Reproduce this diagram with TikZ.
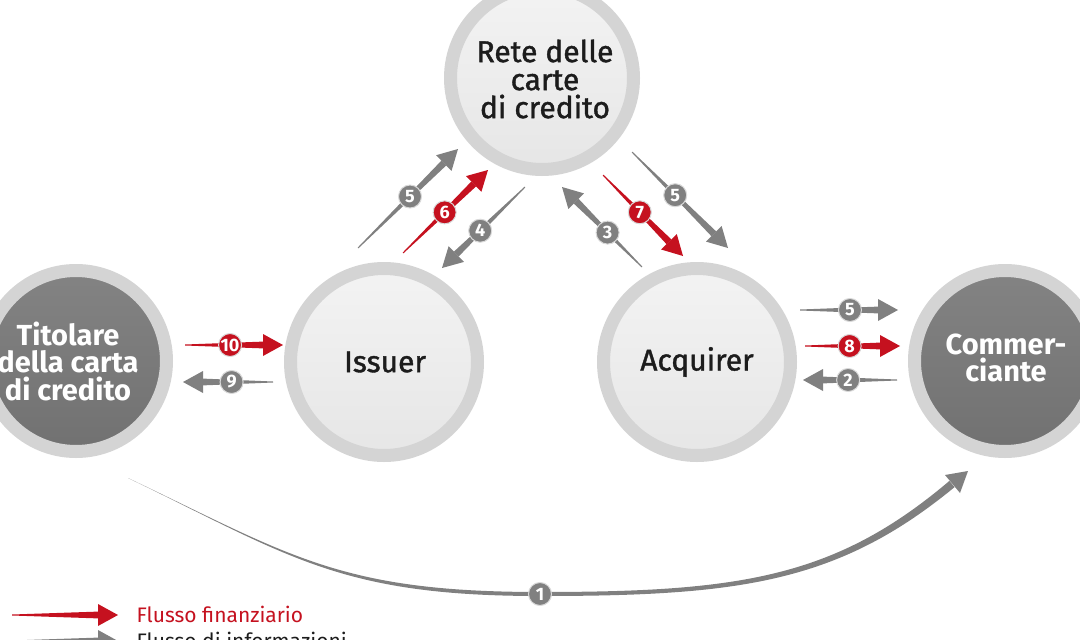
\documentclass[tikz,border=0pt]{standalone}
\usepackage{fontspec}
\setmainfont{Fira Sans}
\newfontfamily\medfont{Fira Sans}[FakeBold=1.3]
\usetikzlibrary{calc}
\definecolor{ring}{HTML}{D4D4D4}
\definecolor{innertop}{HTML}{F3F3F3}
\definecolor{innerbot}{HTML}{E6E6E6}
\definecolor{darktop}{HTML}{838383}
\definecolor{darkbot}{HTML}{717171}
\definecolor{flowred}{HTML}{C5111F}
\definecolor{flowgray}{HTML}{808080}
\definecolor{txt}{HTML}{1C1C1C}
\newcommand\flowarrow[6]{% #1 colour, #2 start, #3 end, #4 label, #5 badge position, #6 name
  \coordinate (#6-hb) at ($(#3)!20pt!(#2)$);
  \fill[#1] ($(#2)!0.5pt!90:(#3)$) -- ($(#6-hb)!3.4pt!90:(#3)$) -- ($(#6-hb)!3.4pt!-90:(#3)$) -- ($(#2)!0.5pt!-90:(#3)$) -- cycle;
  \fill[#1] ($(#6-hb)!11pt!90:(#3)$) -- (#3) -- ($(#6-hb)!11pt!-90:(#3)$) -- cycle;
  \if\relax\detokenize{#4}\relax\else
  \node[badge, fill=#1] (#6) at ($(#2)!#5!(#3)$) {#4};
  \fi}
\begin{document}
\begin{tikzpicture}[x=1pt,y=-1pt,
  lightnode/.style={circle, draw=ring, line width=13pt, inner sep=0pt, top color=innertop, bottom color=innerbot},
  darknode/.style={circle, draw=ring, line width=13pt, inner sep=0pt, top color=darktop, bottom color=darkbot},
  lighttext/.style={align=center, text=txt, font=\medfont\fontsize{30}{28}\selectfont},
  darktext/.style={align=center, text=white, font=\bfseries\fontsize{29}{27.5}\selectfont},
  badge/.style={circle, inner sep=0pt, minimum size=23pt, text=white, draw=white!85!black, line width=1pt, font=\bfseries\fontsize{18}{18}\selectfont},
  legendtext/.style={anchor=base west, font=\fontsize{21}{21}\selectfont}]
\useasboundingbox (0,0) rectangle (1080,640);
\clip (0,0) rectangle (1080,640);
\fill[white] (0,0) rectangle (1080,640);

% circles
\node[lightnode, minimum size=183pt] (rete) at (542,78) {};
\node[lightnode, minimum size=187pt] (issuer) at (384,362) {};
\node[lightnode, minimum size=187pt] (acquirer) at (697,362) {};
\node[darknode, minimum size=181pt] (titolare) at (76,361) {};
\node[darknode, minimum size=181pt] (commerciante) at (1005,361) {};

% texts
\node[lighttext] (rete-t) at (545,79) {Rete delle\\carte\\di credito};
\node[lighttext] (issuer-t) at (385,362) {Issuer};
\node[lighttext] (acquirer-t) at (697,362) {Acquirer};
\node[darktext] (titolare-t) at (68,361) {Titolare\\della carta\\di credito};
\node[darktext] (commerciante-t) at (1006,358) {Commer-\\ciante};

% Titolare <-> Issuer
\coordinate (a10s) at (185,345); \coordinate (a10e) at (283,345);
\flowarrow{flowred}{a10s}{a10e}{10}{0.46}{b10}
\coordinate (a9s) at (273,382); \coordinate (a9e) at (183,382);
\flowarrow{flowgray}{a9s}{a9e}{9}{0.46}{b9}

% Acquirer <-> Commerciante
\coordinate (a5rs) at (800,310); \coordinate (a5re) at (898,310);
\flowarrow{flowgray}{a5rs}{a5re}{5}{0.51}{b5r}
\coordinate (a8s) at (805,346); \coordinate (a8e) at (900,346);
\flowarrow{flowred}{a8s}{a8e}{8}{0.47}{b8}
\coordinate (a2s) at (897,380); \coordinate (a2e) at (803,380);
\flowarrow{flowgray}{a2s}{a2e}{2}{0.52}{b2}

% Issuer <-> Rete
\coordinate (a5ls) at (358,248); \coordinate (a5le) at (458,149);
\flowarrow{flowgray}{a5ls}{a5le}{5}{0.52}{b5l}
\coordinate (a6s) at (403,253); \coordinate (a6e) at (488,170);
\flowarrow{flowred}{a6s}{a6e}{6}{0.49}{b6}
\coordinate (a4s) at (525,187); \coordinate (a4e) at (442,268);
\flowarrow{flowgray}{a4s}{a4e}{4}{0.54}{b4}

% Rete <-> Acquirer
\coordinate (a3s) at (642,267); \coordinate (a3e) at (562,187);
\flowarrow{flowgray}{a3s}{a3e}{3}{0.43}{b3}
\coordinate (a7s) at (603,175); \coordinate (a7e) at (683,256);
\flowarrow{flowred}{a7s}{a7e}{7}{0.46}{b7}
\coordinate (a5ds) at (632,152); \coordinate (a5de) at (728,248);
\flowarrow{flowgray}{a5ds}{a5de}{5}{0.45}{b5d}

% curved arrow 1: Titolare -> Commerciante
\coordinate (c1s) at (128,478);
\coordinate (c1m) at (540,594);
\coordinate (c1tip) at (968,471);
\fill[flowgray] (c1s) .. controls (291,555.5) and (340,592) .. (540,592)
  .. controls (740,592) and (835.5,577.5) .. (949.4,480.9)
  -- (954.6,487.1) .. controls (838.5,582.5) and (740,596) .. (540,596)
  .. controls (340,596) and (290.5,556.5) .. (c1s) -- cycle;
\fill[flowgray] (945,475) -- (c1tip) -- (960,493) -- cycle;
\node[badge, fill=flowgray] (b1) at (c1m) {1};

% legend
\coordinate (l1s) at (12,615); \coordinate (l1e) at (118,615);
\flowarrow{flowred}{l1s}{l1e}{}{0}{lg1}
\coordinate (l2s) at (12,641); \coordinate (l2e) at (118,641);
\flowarrow{flowgray}{l2s}{l2e}{}{0}{lg2}
\node[legendtext, text=flowred] (leg1) at (133,622) {Flusso finanziario};
\node[legendtext, text=txt] (leg2) at (133,648) {Flusso di informazioni};
\end{tikzpicture}
\end{document}
